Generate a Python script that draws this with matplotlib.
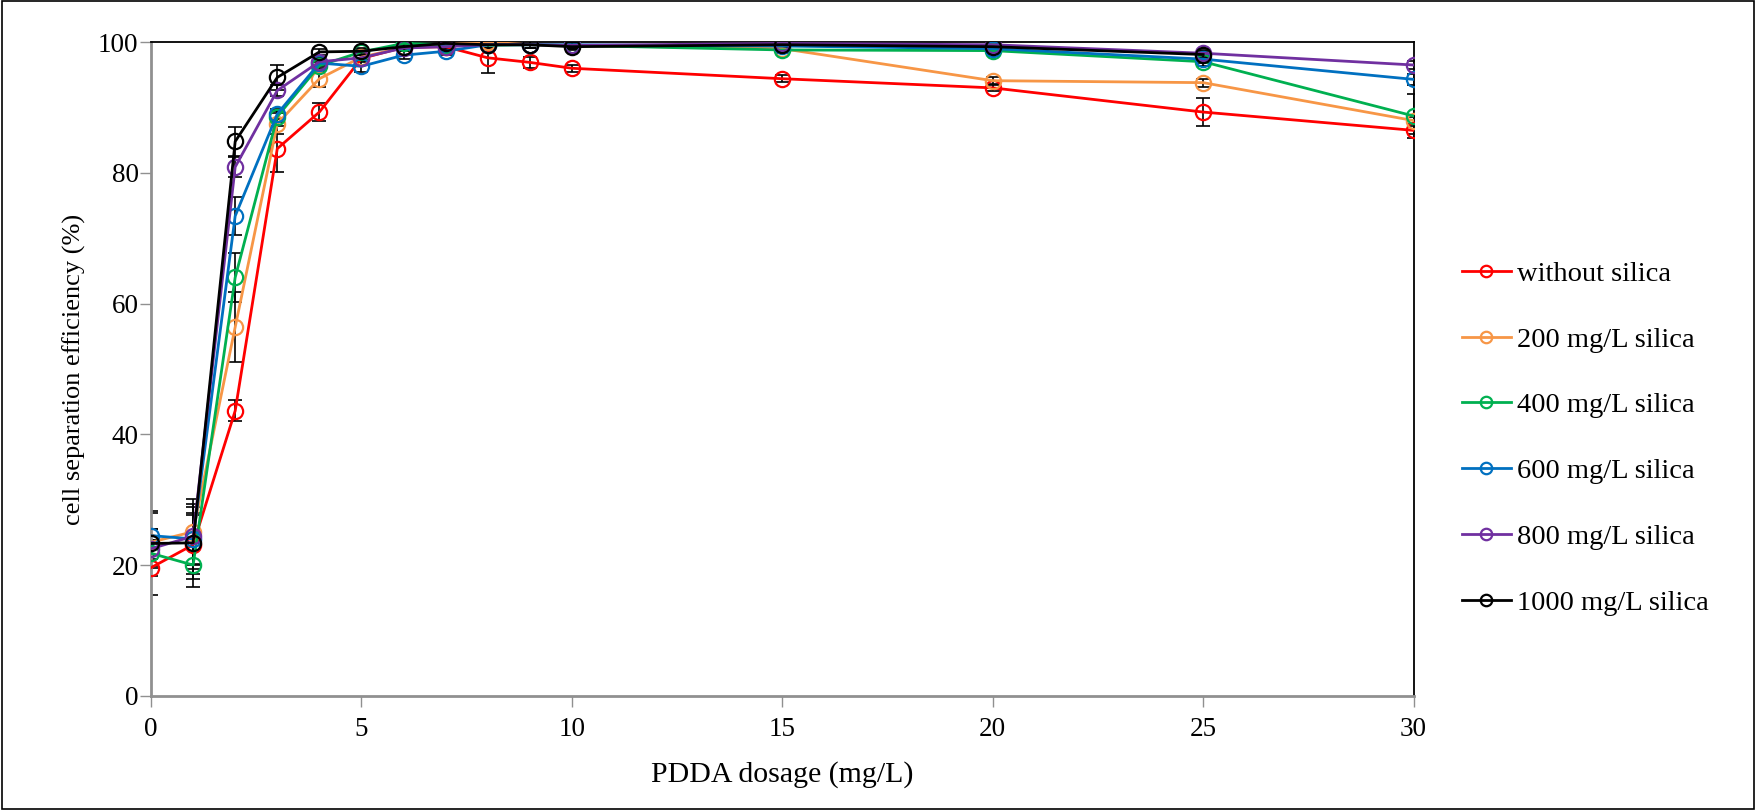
import matplotlib
matplotlib.use("Agg")
import matplotlib.pyplot as plt
import numpy as np

# PDDA dosage (mg/L)
dosage = [0, 1, 2, 3, 4, 5, 6, 7, 8, 9, 10, 15, 20, 25, 30]

labels = ["without silica", "200 mg/L silica", "400 mg/L silica",
          "600 mg/L silica", "800 mg/L silica", "1000 mg/L silica"]
colors = ["#FF0000", "#F79646", "#00B050", "#0070C0", "#7030A0", "#000000"]

# cell separation efficiency (%)
eff_0 = [19.6, 23.1, 43.6, 83.7, 89.3, 97.5, 99.2, 99.3, 97.6, 96.9, 96.0, 94.4, 93.0, 89.3, 86.5]
eff_200 = [23.5, 25.1, 56.4, 87.5, 94.4, 97.7, 99.2, 99.7, 100.0, 99.6, 99.5, 99.0, 94.1, 93.8, 88.0]
eff_400 = [21.8, 20.0, 64.0, 88.6, 96.4, 98.5, 99.8, 99.6, 99.5, 99.6, 99.5, 98.8, 98.7, 97.0, 88.7]
eff_600 = [24.5, 24.0, 73.4, 89.0, 96.8, 96.3, 98.0, 98.6, 99.6, 99.6, 99.6, 99.4, 99.0, 97.4, 94.3]
eff_800 = [22.5, 24.4, 80.9, 92.6, 97.0, 97.6, 99.1, 99.3, 99.6, 99.6, 99.5, 99.8, 99.6, 98.3, 96.5]
eff_1000 = [23.3, 23.4, 84.8, 94.6, 98.5, 98.6, 99.3, 99.8, 99.6, 99.6, 99.3, 99.6, 99.3, 98.1, np.nan]

# standard deviations
err_0 = [4.2, 4.5, 1.6, 3.5, 1.4, 0.5, 0.5, 0.5, 2.3, 0.8, 0.5, 0.5, 0.5, 2.2, 0.6]
err_200 = [2.0, 5.0, 5.3, 1.6, 1.2, 0.5, 0.5, 0.5, 0.5, 0.5, 0.5, 0.5, 0.5, 0.6, 0.6]
err_400 = [2.0, 3.3, 3.8, 0.8, 0.5, 0.5, 0.5, 0.5, 0.5, 0.5, 0.5, 0.5, 0.5, 0.6, 3.3]
err_600 = [3.5, 4.0, 2.9, 0.8, 0.6, 0.9, 0.6, 0.5, 0.5, 0.5, 0.5, 0.5, 0.5, 0.6, 0.8]
err_800 = [3.0, 5.0, 1.5, 0.8, 0.5, 0.5, 0.5, 0.5, 0.5, 0.5, 0.5, 0.5, 0.5, 0.5, 0.6]
err_1000 = [5.0, 5.5, 2.2, 1.9, 0.5, 0.5, 0.5, 0.5, 0.5, 0.5, 0.5, 0.5, 0.5, 0.5, 0.0]

effs = [eff_0, eff_200, eff_400, eff_600, eff_800, eff_1000]
errs = [err_0, err_200, err_400, err_600, err_800, err_1000]

plt.rcParams['font.family'] = ['Liberation Serif', 'DejaVu Serif']

fig = plt.figure(figsize=(17.56, 8.10), dpi=100)
ax = fig.add_axes([0.086, 0.141, 0.719, 0.807])

for y, e, c, lab in zip(effs, errs, colors, labels):
    ax.errorbar(dosage, y, yerr=e, fmt='none', ecolor='black', elinewidth=1.2,
                capsize=5, capthick=1.2, zorder=2)
    ax.plot(dosage, y, color=c, lw=2, marker='o', ms=11, mfc='none',
            mec=c, mew=1.6, label=lab, zorder=3)

ax.set_xlim(0, 30)
ax.set_ylim(0, 100)
ax.set_xticks([0, 5, 10, 15, 20, 25, 30])
ax.set_yticks([0, 20, 40, 60, 80, 100])
ax.tick_params(axis='both', labelsize=19.5, length=8, width=1, color='#909090',
               direction='out')
ax.tick_params(axis='x', pad=7)
ax.tick_params(axis='y', pad=1)

for s in ['left', 'bottom']:
    ax.spines[s].set_color('#909090')
    ax.spines[s].set_linewidth(2)
for s in ['top', 'right']:
    ax.spines[s].set_color('black')
    ax.spines[s].set_linewidth(1.3)

ax.set_xlabel("PDDA dosage (mg/L)", fontsize=21.5, labelpad=14)
ax.set_ylabel("cell separation efficiency (%)", fontsize=19, labelpad=9)

ax.legend(loc='center left', bbox_to_anchor=(1.038, 0.394), frameon=False,
          fontsize=20.5, labelspacing=1.4, handlelength=1.75, handletextpad=0.18,
          borderpad=0, borderaxespad=0, markerscale=0.75)

# outer frame
fig.patches.append(plt.Rectangle((0.001, 0.001), 0.998, 0.998, transform=fig.transFigure,
                                 fill=False, edgecolor='black', lw=1.2))

fig.savefig("out.png", dpi=100)
